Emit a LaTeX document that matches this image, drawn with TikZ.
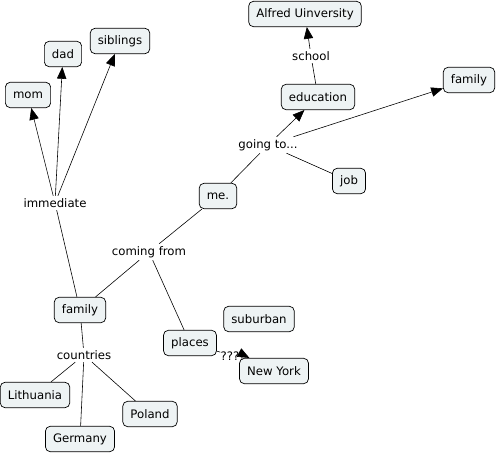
\documentclass[tikz,border=0pt]{standalone}
\usepackage{fontspec}
\setmainfont{DejaVu Sans}
\usetikzlibrary{arrows.meta,positioning}
\definecolor{conceptbg}{HTML}{EEF3F4}
\tikzset{concept/.style={rectangle, draw, fill=conceptbg, rounded corners=4pt, minimum height=0.76cm, inner xsep=6.5pt, line width=0.6pt, font=\fontsize{10}{12}\selectfont}}
\tikzset{phrase/.style={inner sep=2pt, fill=white, font=\fontsize{10}{12}\selectfont}}
\tikzset{line/.style={draw, line width=0.5pt}}
\tikzset{arrow/.style={draw, line width=0.5pt, -{Triangle[length=10pt,width=8pt]}}}
\begin{document}
\begin{tikzpicture}[x=0.03cm, y=-0.03cm]
\useasboundingbox (0,0) rectangle (498,455);
        % family side
        \node[concept] (mom) at (28,95) {mom};
        \node[concept] (dad) at (63,54) {dad};
        \node[concept] (siblings) at (120,41) {siblings};
        \node[phrase] (imm) at (55,203) {immediate};
        \node[concept] (me) at (218,196) {me.};
        \node[phrase] (come) at (149,252) {coming from};
        \node[concept] (fam) at (80,310) {family};
        \node[phrase] (countries) at (84,355) {countries};
        \node[concept] (lith) at (35,395) {Lithuania};
        \node[concept] (germ) at (80,439) {Germany};
        \node[concept] (pol) at (150,414) {Poland};
        \node[concept] (places) at (190,343) {places};
        \node[concept] (sub) at (259,319) {suburban};
        \node[concept] (ny) at (274,371) {New York};
        \node[phrase, inner sep=0pt, fill=none] (q) at (233,356) {????};
        % future side
        \node[phrase] (going) at (268,145) {going to...};
        \node[concept] (edu) at (318,97) {education};
        \node[phrase] (school) at (311,56) {school};
        \node[concept] (alfred) at (305,14) {Alfred Uinversity};
        \node[concept] (fam2) at (469,80) {family};
        \node[concept] (job) at (349,181) {job};
        \path[arrow] (imm) -- (mom);
        \path[arrow] (imm) -- (dad);
        \path[arrow] (imm) -- (siblings);
        \path[line] (fam) -- (imm);
        \path[line] (me) -- (come);
        \path[line] (come) -- (fam);
        \path[line] (come) -- (places);
        \path[line] (fam) -- (countries);
        \path[line] (countries) -- (lith);
        \path[line] (countries) -- (germ);
        \path[line] (countries) -- (pol);
        \path[line] (places) -- (q);
        \path[arrow] (q.east) -- (ny);
        \path[line] (me) -- (going);
        \path[arrow] (going) -- (edu);
        \path[arrow] (going) -- (fam2);
        \path[line] (going) -- (job);
        \path[line] (edu) -- (school);
        \path[arrow] (school) -- (alfred);
\end{tikzpicture}
\end{document}
